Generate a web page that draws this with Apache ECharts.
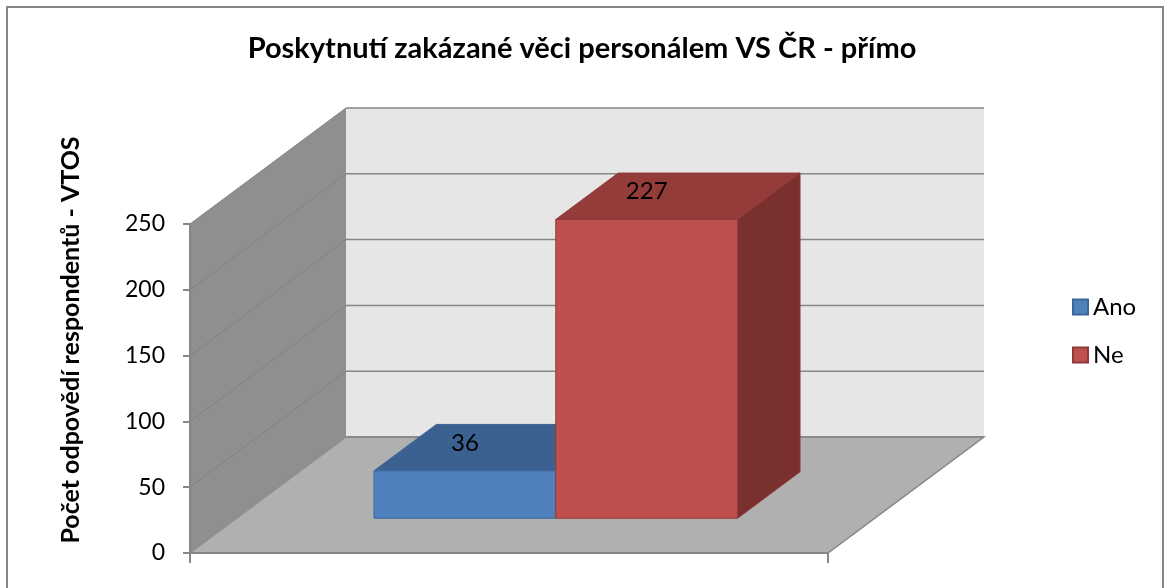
<!DOCTYPE html>
<html><head><meta charset="utf-8">
<script src="https://cdn.jsdelivr.net/npm/echarts@6/dist/echarts.min.js"></script>
<style>html,body{margin:0;padding:0;background:#fff}#c{width:1164px;height:588px}</style>
</head><body><div id="c"></div>
<script>
const titleText = 'Poskytnutí zakázané věci personálem VS ČR - přímo';
const yAxisName = 'Počet odpovědí respondentů - VTOS';
const categories = [''];
const seriesNames = ['Ano', 'Ne'];
const anoValues = [36];
const neValues = [227];
const yTicks = [0, 50, 100, 150, 200, 250];

const FONT = 'Lato';
const DEPTH = [156, -116];
const FRONT = 0.30, BAR_DEPTH = 0.40, BAR_W = 0.285;
const faceColors = {
  Ano: {front:'#4f81bd', top:'#3b6190', side:'#2f4f77', stroke:'#3a6698'},
  Ne: {front:'#c0504d', top:'#943c3a', side:'#7a302e', stroke:'#8e3a38'}
};

function wallsRender(params, api) {
  const c0 = api.coord([0, 0]);
  const band = api.size([1, 0])[0];
  const xl = c0[0] - band / 2, xr = c0[0] + band / 2, yb = c0[1];
  const dx = DEPTH[0], dy = DEPTH[1];
  const yTop = api.coord([0, yTicks[yTicks.length - 1]])[1];
  const children = [];
  children.push({type:'polygon', shape:{points:[[xl+dx,yTop+dy],[xr+dx,yTop+dy],[xr+dx,yb+dy],[xl+dx,yb+dy]]}, style:{fill:'#e6e6e6'}});
  children.push({type:'polygon', shape:{points:[[xl,yb],[xl,yTop],[xl+dx,yTop+dy],[xl+dx,yb+dy]]}, style:{fill:'#8f8f8f'}});
  children.push({type:'polygon', shape:{points:[[xl,yb],[xr,yb],[xr+dx,yb+dy],[xl+dx,yb+dy]]}, style:{fill:'#b0b0b0', stroke:'#868686', lineWidth:1.5}});
  yTicks.forEach(v => {
    const y = api.coord([0, v])[1];
    children.push({type:'line', shape:{x1:xl+dx,y1:y+dy,x2:xr+dx,y2:y+dy}, style:{stroke:'#868686', lineWidth:1.5}});
    children.push({type:'line', shape:{x1:xl,y1:y,x2:xl+dx,y2:y+dy}, style:{stroke:v === 0 ? '#9a9a9a' : '#828282', lineWidth:1}});
  });
  return {type:'group', children};
}

function makeBarRender(idx, name) {
  return function (params, api) {
    const v = api.value(1);
    const c0 = api.coord([api.value(0), 0]);
    const cv = api.coord([api.value(0), v]);
    const band = api.size([1, 0])[0];
    const w = band * BAR_W;
    const fx = DEPTH[0] * FRONT, fy = DEPTH[1] * FRONT;
    const bx = DEPTH[0] * BAR_DEPTH, by = DEPTH[1] * BAR_DEPTH;
    const x0 = c0[0] + fx + (idx - 1) * w;
    const x1 = x0 + w;
    const yb = c0[1] + fy, yt = cv[1] + fy;
    const col = faceColors[name];
    return {type:'group', children:[
      {type:'polygon', shape:{points:[[x1,yb],[x1,yt],[x1+bx,yt+by],[x1+bx,yb+by]]}, style:{fill:col.side, stroke:col.stroke, lineWidth:1}},
      {type:'polygon', shape:{points:[[x0,yt],[x1,yt],[x1+bx,yt+by],[x0+bx,yt+by]]}, style:{fill:col.top, stroke:col.stroke, lineWidth:1}},
      {type:'rect', shape:{x:x0,y:yt,width:w,height:yb-yt}, style:{fill:col.front, stroke:col.stroke, lineWidth:1}},
      {type:'text', x:(x0+x1)/2, y:yt-28, style:{text:String(v), fill:'#000', font:'24px ' + FONT, align:'center', verticalAlign:'middle'}}
    ]};
  };
}

const chart = echarts.init(document.getElementById('c'), null, {renderer:'canvas'});
chart.setOption({
  backgroundColor:'#fff',
  animation:false,
  title:{text:titleText, left:'center', top:29, textStyle:{fontFamily:FONT, fontWeight:'bold', fontSize:29, color:'#000'}},
  legend:{data:seriesNames, orient:'vertical', left:1067, top:290, icon:'rect', itemWidth:15, itemHeight:15, itemGap:24,
    textStyle:{fontFamily:FONT, fontSize:24, lineHeight:24, color:'#000'}},
  graphic:[
    {type:'rect', shape:{x:7,y:7,width:1156,height:640}, style:{fill:null, stroke:'#868686', lineWidth:2}, z:100},
    {type:'text', x:71, y:340, rotation:Math.PI/2, style:{text:yAxisName, fill:'#000', font:'bold 25px ' + FONT, align:'center', verticalAlign:'middle'}, z:100}
  ],
  grid:{left:190, right:336, top:224, bottom:35},
  xAxis:{type:'category', data:categories, z:10,
    axisLine:{lineStyle:{color:'#868686', width:2}},
    axisTick:{show:true, length:10, lineStyle:{color:'#868686', width:2}},
    axisLabel:{show:false}},
  yAxis:{type:'value', min:0, max:250, interval:50, z:10,
    axisLine:{show:true, lineStyle:{color:'#868686', width:2}},
    axisTick:{show:true, length:7, lineStyle:{color:'#868686', width:2}},
    axisLabel:{fontFamily:FONT, fontSize:23, color:'#000', margin:25},
    splitLine:{show:false}},
  series:[
    {type:'custom', name:'walls', renderItem:wallsRender, data:[[0,0]], silent:true, z:1},
    {type:'custom', name:'Ano', renderItem:makeBarRender(0,'Ano'), data:anoValues.map((v,i)=>[i,v]), z:2,
      itemStyle:{color:'#4f81bd', borderColor:'#3a6698', borderWidth:1}},
    {type:'custom', name:'Ne', renderItem:makeBarRender(1,'Ne'), data:neValues.map((v,i)=>[i,v]), z:2,
      itemStyle:{color:'#c0504d', borderColor:'#8e3a38', borderWidth:1}}
  ]
});
</script></body></html>
